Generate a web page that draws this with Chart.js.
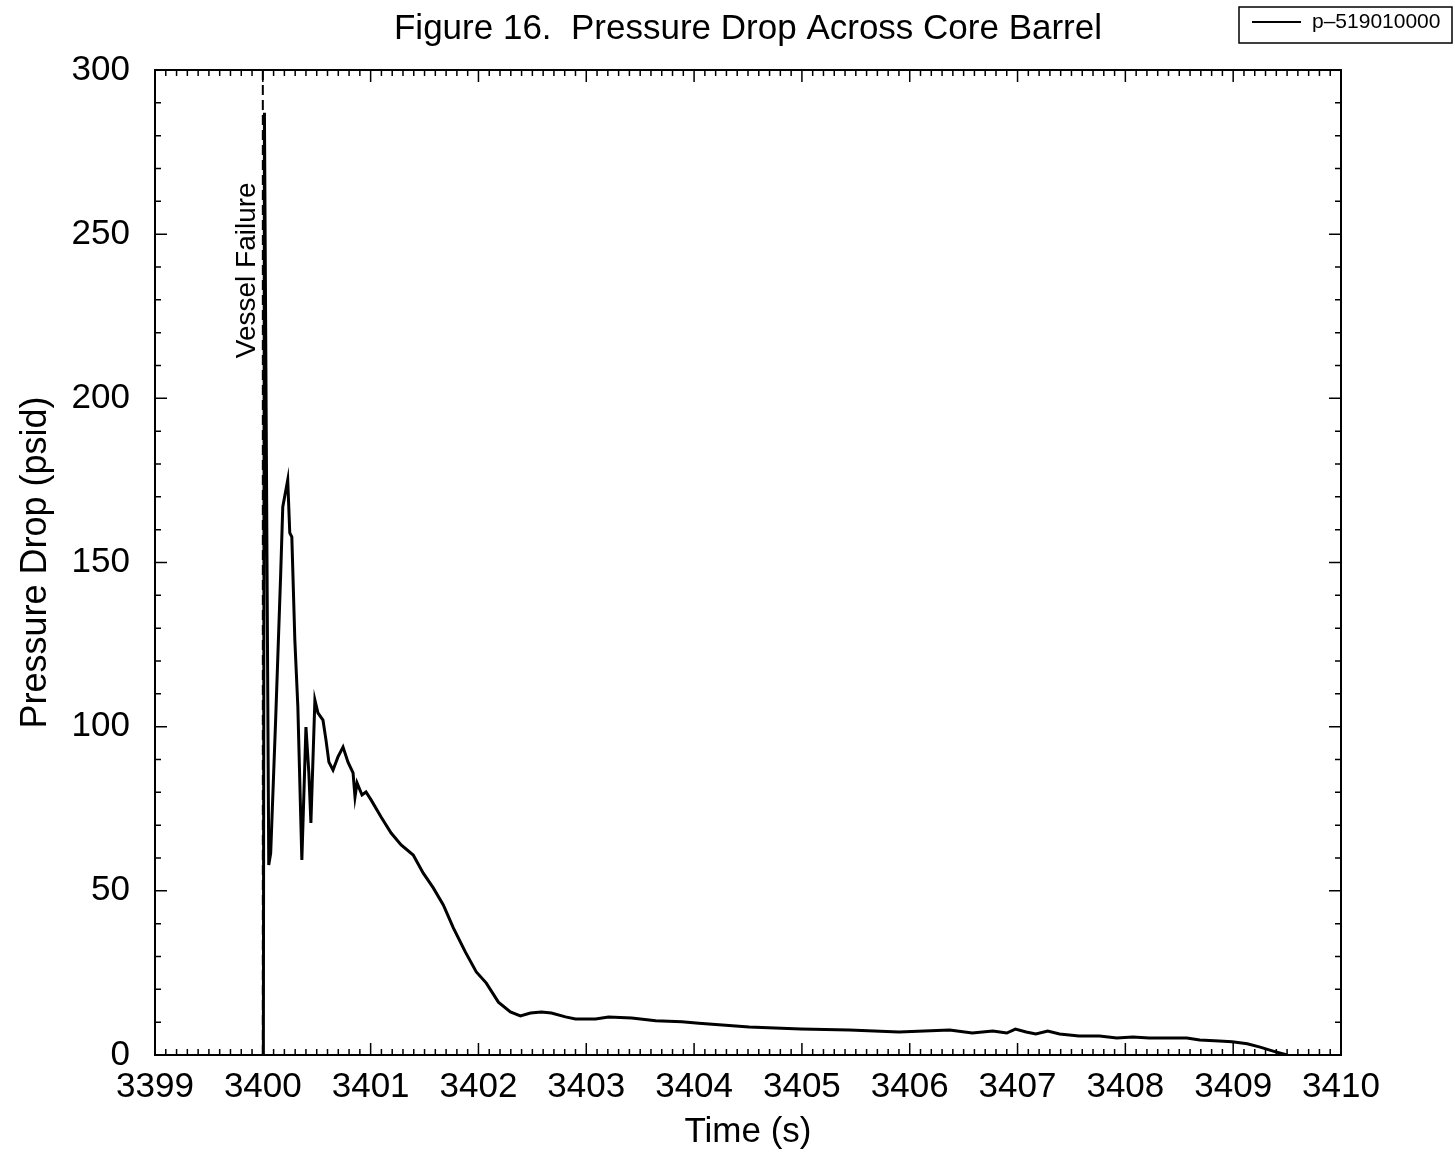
<!DOCTYPE html>
<html>
<head>
<meta charset="utf-8">
<script src="https://cdn.jsdelivr.net/npm/chart.js@4.4.1/dist/chart.umd.min.js"></script>
<style>
    html, body { margin: 0; padding: 0; background: #fff; }
    #wrap { width: 1455px; height: 1155px; }
</style>
</head>
<body>
<div id="wrap"><canvas id="chart" width="1455" height="1155"></canvas></div>
<script>
// Figure 16 - pressure drop across core barrel
const chartTitle = 'Figure 16.  Pressure Drop Across Core Barrel';
const seriesName = 'p–519010000';
const xTitle = 'Time (s)';
const yTitle = 'Pressure Drop (psid)';
const eventTime = 3400.0;
const eventLabel = 'Vessel Failure';

const timeValues = [
    3400.005, 3400.015, 3400.055, 3400.073, 3400.12, 3400.166, 3400.185, 3400.231,
    3400.25, 3400.269, 3400.297, 3400.325, 3400.362, 3400.4, 3400.427, 3400.446,
    3400.483, 3400.511, 3400.558, 3400.586, 3400.613, 3400.651, 3400.697, 3400.744,
    3400.79, 3400.837, 3400.855, 3400.874, 3400.92, 3400.957, 3401.004, 3401.097,
    3401.19, 3401.283, 3401.395, 3401.488, 3401.581, 3401.674, 3401.767, 3401.878,
    3401.98, 3402.073, 3402.185, 3402.296, 3402.389, 3402.482, 3402.584, 3402.677,
    3402.807, 3402.9, 3403.086, 3403.207, 3403.421, 3403.644, 3403.886, 3404.044,
    3404.51, 3404.99, 3405.44, 3405.9, 3406.37, 3406.58, 3406.77, 3406.9,
    3406.98, 3407.08, 3407.17, 3407.28, 3407.39, 3407.57, 3407.76, 3407.92,
    3408.07, 3408.22, 3408.44, 3408.57, 3408.69, 3408.87, 3408.99, 3409.13,
    3409.25, 3409.37, 3409.5
];
const pressureValues = [
    0, 287, 57.9, 61.5, 103, 146.8, 166.9, 175.1,
    159, 157.8, 126.4, 106, 59.4, 99.9, 85.9, 70.7,
    108.1, 104.2, 102, 95.9, 89.2, 86.8, 90.8, 93.8,
    89.2, 85.9, 78.6, 82.9, 79.2, 80.1, 77.7, 72.5,
    67.6, 64.0, 60.9, 55.4, 50.9, 45.7, 38.7, 31.4,
    25.3, 21.9, 16.1, 13.1, 11.9, 12.8, 13.1, 12.8,
    11.6, 11.0, 11.0, 11.6, 11.3, 10.4, 10.1, 9.7,
    8.5, 7.9, 7.6, 7.0, 7.6, 6.7, 7.3, 6.7,
    7.9, 7.0, 6.4, 7.3, 6.4, 5.8, 5.8, 5.2,
    5.5, 5.2, 5.2, 5.2, 4.6, 4.3, 4.0, 3.4,
    2.4, 1.2, 0
];

const xRange = [3399, 3410];
const yRange = [0, 300];
const xMinorStep = 0.1;
const yMinorStep = 10;

const fontFamily = '"Liberation Sans", Arial, Helvetica, sans-serif';
Chart.defaults.font.family = fontFamily;
Chart.defaults.color = '#000';

// ticks para dentro nos quatro lados + moldura
const frameTicks = {
    id: 'frameTicks',
    afterDatasetsDraw(chart) {
        const { ctx, chartArea: a, scales: { x, y } } = chart;
        ctx.save();
        ctx.strokeStyle = '#000';
        ctx.lineWidth = 1.5;
        ctx.beginPath();
        const nx = Math.round((xRange[1] - xRange[0]) / xMinorStep);
        for (let i = 0; i <= nx; i++) {
            const px = x.getPixelForValue(xRange[0] + i * xMinorStep);
            const len = i % 10 === 0 ? 12 : 6;
            ctx.moveTo(px, a.bottom); ctx.lineTo(px, a.bottom - len);
            ctx.moveTo(px, a.top); ctx.lineTo(px, a.top + len);
        }
        const ny = Math.round((yRange[1] - yRange[0]) / yMinorStep);
        for (let i = 0; i <= ny; i++) {
            const py = y.getPixelForValue(yRange[0] + i * yMinorStep);
            const len = i % 5 === 0 ? 12 : 6;
            ctx.moveTo(a.left, py); ctx.lineTo(a.left + len, py);
            ctx.moveTo(a.right, py); ctx.lineTo(a.right - len, py);
        }
        ctx.stroke();
        ctx.lineWidth = 2;
        ctx.strokeRect(a.left, a.top, a.width, a.height);
        ctx.restore();
    }
};

// título, legenda e rótulo do evento
const annotations = {
    id: 'annotations',
    beforeDraw(chart) {
        const { ctx } = chart;
        ctx.save();
        ctx.fillStyle = '#fff';
        ctx.fillRect(0, 0, chart.width, chart.height);
        ctx.restore();
    },
    afterDraw(chart) {
        const { ctx, chartArea: a, scales: { x, y } } = chart;
        ctx.save();
        ctx.fillStyle = '#000';
        ctx.font = '35px ' + fontFamily;
        ctx.textAlign = 'center';
        ctx.textBaseline = 'middle';
        ctx.fillText(chartTitle, (a.left + a.right) / 2, 29);

        // legenda
        ctx.strokeStyle = '#000';
        ctx.lineWidth = 1.5;
        ctx.strokeRect(1239, 7, 213, 36);
        ctx.lineWidth = 2;
        ctx.beginPath();
        ctx.moveTo(1252, 22); ctx.lineTo(1301, 22);
        ctx.stroke();
        ctx.font = '21px ' + fontFamily;
        ctx.textAlign = 'left';
        ctx.fillText(seriesName, 1312, 22);

        // Vessel Failure
        ctx.translate(x.getPixelForValue(eventTime) - 16, y.getPixelForValue(239));
        ctx.rotate(-Math.PI / 2);
        ctx.font = '28px ' + fontFamily;
        ctx.textAlign = 'center';
        ctx.fillText(eventLabel, 0, 0);
        ctx.restore();
    }
};

const ctx = document.getElementById('chart');

const mainData = timeValues.map((t, i) => ({ x: t, y: pressureValues[i] }));
const eventData = [{ x: eventTime, y: yRange[0] }, { x: eventTime, y: yRange[1] }];

new Chart(ctx, {
    type: 'scatter',
    data: {
        datasets: [
            {
                label: seriesName,
                data: mainData,
                showLine: true,
                borderColor: '#000',
                borderWidth: 3,
                pointRadius: 0,
                tension: 0
            },
            {
                label: eventLabel,
                data: eventData,
                showLine: true,
                borderColor: '#000',
                borderWidth: 2,
                borderDash: [10, 5],
                pointRadius: 0
            }
        ]
    },
    options: {
        responsive: false,
        animation: false,
        layout: { padding: { top: 70, right: 114, left: 0, bottom: 0 } },
        plugins: {
            legend: { display: false },
            tooltip: { enabled: false },
            title: { display: false }
        },
        scales: {
            x: {
                type: 'linear',
                min: xRange[0],
                max: xRange[1],
                grid: { display: false, drawTicks: false },
                border: { display: false },
                ticks: {
                    stepSize: 1,
                    padding: 11,
                    font: { size: 35 },
                    color: '#000',
                    callback: v => String(v)
                },
                title: {
                    display: true,
                    text: xTitle,
                    font: { size: 35 },
                    color: '#000',
                    padding: { top: 0, bottom: 2 }
                },
                afterFit: s => { s.height = 100; }
            },
            y: {
                type: 'linear',
                min: yRange[0],
                max: yRange[1],
                grid: { display: false, drawTicks: false },
                border: { display: false },
                ticks: {
                    stepSize: 50,
                    padding: 25,
                    font: { size: 35 },
                    color: '#000',
                    callback: v => String(v)
                },
                title: {
                    display: true,
                    text: yTitle,
                    font: { size: 36 },
                    color: '#000',
                    padding: { top: 14, bottom: 0 }
                },
                afterFit: s => { s.width = 155; }
            }
        }
    },
    plugins: [frameTicks, annotations]
});
</script>
</body>
</html>
